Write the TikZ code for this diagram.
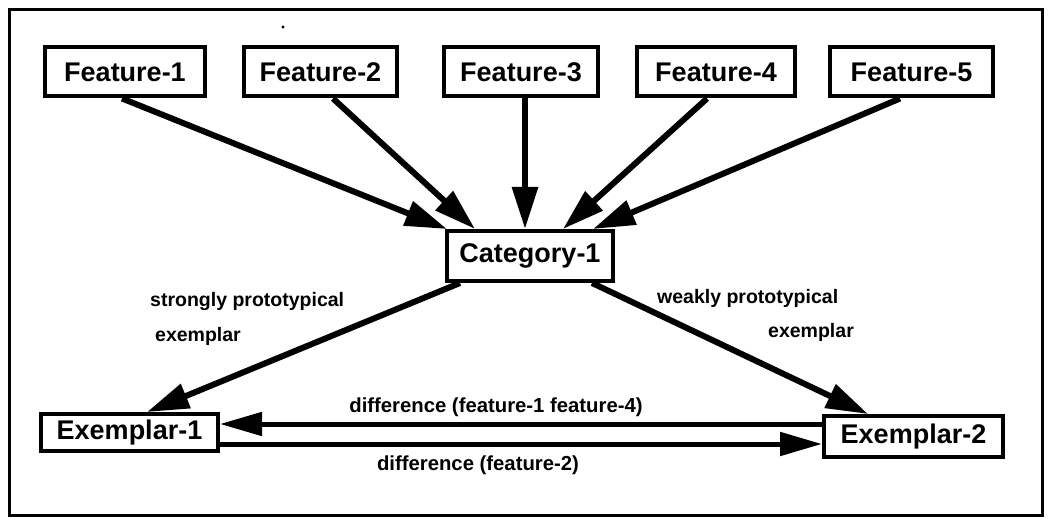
\documentclass[tikz,border=0pt]{standalone}
\usepackage{fontspec}
\setmainfont{Liberation Sans}
\usetikzlibrary{arrows.meta,calc}
\begin{document}
\begin{tikzpicture}[x=1pt,y=-1pt,
  box/.style={draw,line width=4pt,rectangle,inner sep=0pt,minimum height=49pt,
    font=\bfseries\fontsize{27}{27}\selectfont},
  lbl/.style={inner sep=0pt,font=\bfseries\fontsize{19.5}{19.5}\selectfont},
  dlbl/.style={inner sep=0pt,font=\bfseries\fontsize{20.3}{20.3}\selectfont},
  bigarrow/.style={line width=6pt,-{Triangle[length=42pt,width=25pt]}},
  harrow/.style={line width=5pt,-{Triangle[length=42pt,width=23pt]}}
]
\useasboundingbox (0,0) rectangle (1048,518);
\fill[white] (0,0) rectangle (1048,518);
\draw[line width=3pt] (9,10) rectangle (1042,515);
\fill (283,27) circle (1.6);

\node[box,minimum width=160pt] (f1) at (125,72) {Feature-1};
\node[box,minimum width=153pt] (f2) at (320.5,72) {Feature-2};
\node[box,minimum width=154pt] (f3) at (521,72) {Feature-3};
\node[box,minimum width=158pt] (f4) at (716,72) {Feature-4};
\node[box,minimum width=163pt] (f5) at (911.5,72) {Feature-5};
\node[box,minimum width=166pt,minimum height=50pt] (cat) at (530,256) {Category-1};
\node[box,minimum width=177pt,minimum height=37pt] (ex1) at (129.5,432.5) {Exemplar-1};
\node[box,minimum width=179pt,minimum height=41pt] (ex2) at (913.5,436.5) {Exemplar-2};

\draw[bigarrow] ($(f1.south)+(-3,0)$) -- ($(cat.north)+(-83,0)$);
\draw[bigarrow] ($(f2.south)+(12.5,0)$) -- ($(cat.north)+(-55,0)$);
\draw[bigarrow] ($(f3.south)+(4,0)$) -- ($(cat.north)+(-5,0)$);
\draw[bigarrow] ($(f4.south)+(-9,0)$) -- ($(cat.north)+(33,0)$);
\draw[bigarrow] ($(f5.south)+(-11.5,0)$) -- ($(cat.north)+(63,0)$);

\draw[bigarrow] ($(cat.south)+(-70,0)$) -- ($(ex1.north)+(17.5,0)$);
\draw[bigarrow] ($(cat.south)+(62,0)$) -- ($(ex2.north)+(-45.5,0)$);

\draw[harrow] ($(ex2.west)+(0,-12.5)$) -- ($(ex1.east)+(0,-8.5)$);
\draw[harrow] ($(ex1.east)+(0,11.5)$) -- ($(ex2.west)+(0,7.5)$);

\node[lbl,anchor=west] (l1) at (150,302) {strongly prototypical};
\node[lbl,anchor=west] (l2) at (155,336) {exemplar};
\node[lbl,anchor=west] (l3) at (657,298) {weakly prototypical};
\node[lbl,anchor=west] (l4) at (768,332) {exemplar};
\node[dlbl] (d1) at (496,407) {difference (feature-1 feature-4)};
\node[dlbl] (d2) at (478,465) {difference (feature-2)};
\end{tikzpicture}
\end{document}
